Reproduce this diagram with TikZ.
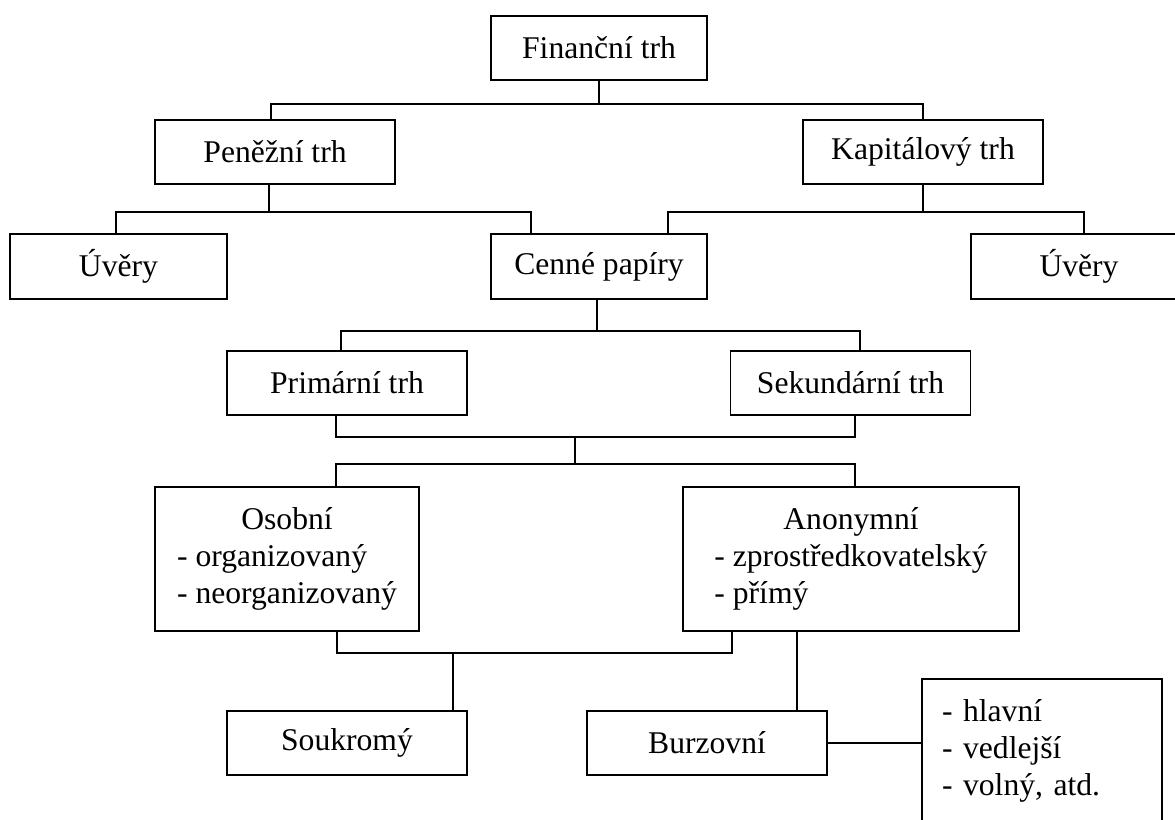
\documentclass[tikz,border=0pt]{standalone}
\usepackage{fontspec}
\setmainfont{Liberation Serif}

\begin{document}
\begin{tikzpicture}[
  x=0.02cm, y=-0.02cm,
  box/.style={rectangle, draw, line width=1pt, minimum width=4.8cm, minimum height=1.28cm, align=center, font=\fontsize{18}{21}\selectfont},
  link/.style={line width=0.9pt}
]
\useasboundingbox (0,0) rectangle (1175,819);
\clip (0,0) rectangle (1175,819);

% Top levels
\node[box, minimum width=4.32cm] (fin) at (599,48) {Finanční trh};
\node[box] (pen) at (275,152) {Peněžní trh};
\node[box] (kap) at (923,152) {Kapitálový trh};

\node[box, minimum width=4.34cm, minimum height=1.3cm] (uv1) at (118.5,266.5) {Úvěry};
\node[box, minimum width=4.32cm, minimum height=1.3cm] (cen) at (599,266.5) {Cenné papíry};
\node[box, minimum width=4.32cm, minimum height=1.3cm] (uv2) at (1079,266.5) {Úvěry};

\node[box] (pri) at (347,383) {Primární trh};
\node[box] (sek) at (850.5,383) {Sekundární trh};

% Market types
\node[box, minimum width=5.28cm, minimum height=2.88cm] (oso) at (287,559) {\begin{tabular}{@{}l@{}}\multicolumn{1}{@{}c@{}}{Osobní}\\- organizovaný\\- neorganizovaný\end{tabular}};
\node[box, minimum width=6.73cm, minimum height=2.88cm] (ano) at (851,559) {\begin{tabular}{@{}l@{}}\multicolumn{1}{@{}c@{}}{Anonymní}\\- zprostředkovatelský\\- přímý\end{tabular}};

\node[box] (sou) at (347,743) {Soukromý};
\node[box] (bur) at (707,743) {Burzovní};
\node[box, align=left, text width=4cm, inner xsep=0.4cm, minimum height=2.88cm] (typ) at (1042,751) {- hlavní\\- vedlejší\\- volný, atd.};

% Connectors
\draw[link] (fin.south) -- ++(0,23) -| (pen.north -| 271,0);
\draw[link] (fin.south) -- ++(0,23) -| (kap.north);

\draw[link] (pen.south -| 269,0) -- ++(0,27) -| (uv1.north -| 116,0);
\draw[link] (pen.south -| 269,0) -- ++(0,27) -| (cen.north -| 531,0);
\draw[link] (kap.south) -- ++(0,27) -| (cen.north -| 668,0);
\draw[link] (kap.south) -- ++(0,27) -| (uv2.north -| 1084,0);

\draw[link] (cen.south -| 597,0) -- ++(0,31) -| (pri.north -| 341,0);
\draw[link] (cen.south -| 597,0) -- ++(0,31) -| (sek.north -| 860,0);

\coordinate (m1) at (575,437);
\coordinate (m2) at (575,464);
\draw[link] (pri.south -| 336,0) |- (m1) -| (sek.south -| 855,0);
\draw[link] (m1) -- (m2);
\draw[link] (oso.north -| 336,0) |- (m2) -| (ano.north -| 855,0);

\coordinate (m3) at (453,653);
\draw[link] (oso.south -| 337,0) |- (m3) -| (ano.south -| 732,0);
\draw[link] (m3) -- (sou.north -| 453,0);
\draw[link] (ano.south -| 797,0) -- (bur.north -| 797,0);
\draw[link] (bur.east) -- (bur.east -| typ.west);

\end{tikzpicture}
\end{document}
